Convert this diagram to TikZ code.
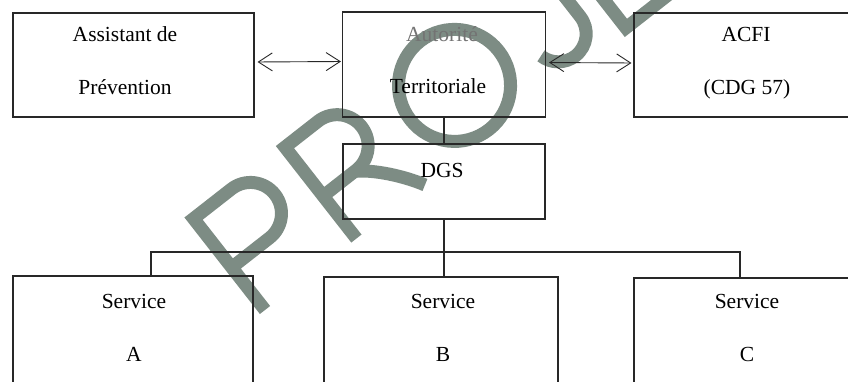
\documentclass[tikz,border=0pt]{standalone}
\usepackage{fontspec}
\setmainfont{Liberation Serif}
\usetikzlibrary{arrows.meta}
\definecolor{wm}{RGB}{125,140,132}
\definecolor{ln}{RGB}{40,40,40}
\begin{document}
\begin{tikzpicture}[x=1pt,y=-1pt,
  box/.style={draw=ln, line width=1.1pt, rectangle, inner sep=0pt},
  lbl/.style={anchor=base, inner sep=0pt, font=\fontsize{21.5}{24}\selectfont},
  bus/.style={draw=ln, line width=2.4pt},
  link/.style={draw=ln, line width=1.4pt},
  dbl/.style={draw=ln, line width=0.9pt, {Straight Barb[length=14pt,width=18pt]}-{Straight Barb[length=14pt,width=18pt]}},
  wmstroke/.style={draw=wm, line width=13pt, line join=miter, line cap=butt}]
\useasboundingbox (0,0) rectangle (848,381);
\clip (0,0) rectangle (848,381);
\fill[white] (0,0) rectangle (848,381);

% watermark
\begin{scope}[shift={(265,310)}, x={(0.788pt,0.616pt)}, y={(-0.616pt,0.788pt)}]
  \draw[wmstroke] (0,0) -- (0,116) -- (48,116) arc[start angle=90,end angle=-90,radius=31] -- (0,54);
  \draw[wmstroke] (116,0) -- (116,116) -- (158,116) arc[start angle=90,end angle=-90,radius=31] -- (116,54);
  \draw[wmstroke] (156,54) .. controls (172,44) and (192,20) .. (203,0);
  \draw[wmstroke] (287.6,60.2) circle[radius=56];
  \draw[wmstroke] (429,140) -- (429,37) arc[start angle=0,end angle=-166,radius=28];
  \draw[wmstroke] (530,116) -- (458,116) -- (458,0) -- (530,0);
  \draw[wmstroke] (458,58) -- (520,58);
\end{scope}

% boxes
\node[box, minimum width=241pt, minimum height=104pt] (asst) at (133.5,65) {};
\node[box, minimum width=203pt, minimum height=105pt] (auto) at (444,64.5) {};
\node[box, minimum width=236pt, minimum height=104pt] (acfi) at (752,65) {};
\node[box, minimum width=202pt, minimum height=75pt] (dgs) at (444,181.5) {};
\node[box, minimum width=240pt, minimum height=144pt] (svcA) at (133,348) {};
\node[box, minimum width=234pt, minimum height=143pt] (svcB) at (441,348.5) {};
\node[box, minimum width=236pt, minimum height=142pt] (svcC) at (752,349) {};

% texts
\node[lbl] (t1) at (125,41) {Assistant de};
\node[lbl] (t2) at (125,94) {Prévention};
\node[lbl, text=black!55] (t3) at (442,41) {Autorité};
\node[lbl] (t4) at (438,93) {Territoriale};
\node[lbl] (t5) at (746,41) {ACFI};
\node[lbl] (t6) at (747,94) {(CDG 57)};
\node[lbl] (t7) at (442,177) {DGS};
\node[lbl] (sa1) at (134,308) {Service};
\node[lbl] (sa2) at (134,361) {A};
\node[lbl] (sb1) at (443,308) {Service};
\node[lbl] (sb2) at (443,361) {B};
\node[lbl] (sc1) at (747,308) {Service};
\node[lbl] (sc2) at (747,361) {C};

% arrows
\draw[dbl, shorten <=3pt, shorten >=1pt] ([yshift=3pt]asst.east) -- ([yshift=3pt]auto.west);
\draw[dbl, shorten <=3pt, shorten >=2pt] ([yshift=2pt]auto.east) -- ([yshift=2pt]acfi.west);

% hierarchy
\coordinate (busA) at (151,252);
\coordinate (busC) at (740,252);
\draw[link] (auto.south) -- (dgs.north);
\draw[bus] (svcA.north -| busA) -- (busA) -- (busC) -- (svcC.north -| busC);
\draw[bus] (dgs.south) -- (dgs.south |- busA) -- (svcB.north -| dgs.south);
\end{tikzpicture}
\end{document}
